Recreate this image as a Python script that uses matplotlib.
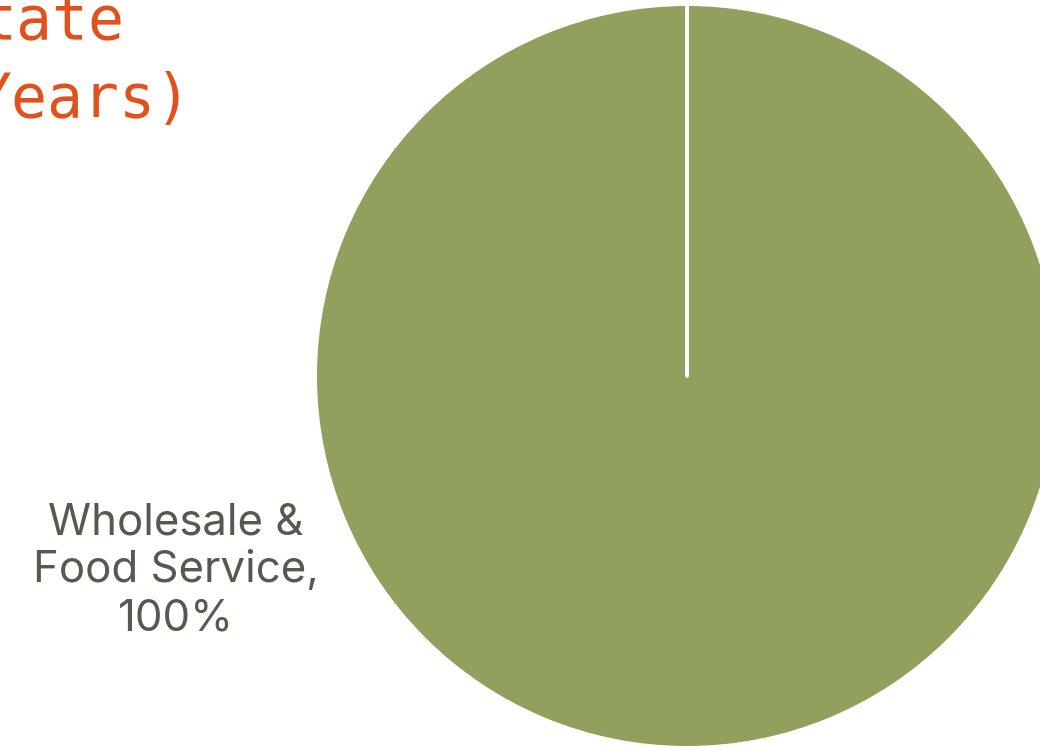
import matplotlib
matplotlib.use("Agg")
import matplotlib.pyplot as plt

# Data
categories = ["Wholesale & Food Service"]
values = [100]
title_lines = ["tate", "Years)"]

slice_colors = ["#92A05D"]
title_color = "#E0511B"
label_color = "#58584F"

W, H = 1040, 747
fig = plt.figure(figsize=(W / 100, H / 100), dpi=100)
ax = fig.add_axes([0, 0, 1, 1])

cx, cy, r = 687, H - 376, 370
wedges, _ = ax.pie(values, colors=slice_colors, startangle=90, counterclock=False,
                   center=(cx, cy), radius=r, frame=True,
                   wedgeprops=dict(edgecolor="none"))
ax.set_xlim(0, W)
ax.set_ylim(0, H)
ax.set_axis_off()

# slice boundary (start angle) drawn as a white separator
ax.plot([cx, cx], [cy, cy + r], color="white", lw=2.8, solid_capstyle="round", zorder=3)

label = f"{categories[0].replace(' & ', ' &\n')},\n{values[0]}%"
ax.text(176, H - 571, label, ha="center", va="center", fontsize=31.5,
        color=label_color, family="Inter", linespacing=1.22)

# clipped title (visible portion)
ax.text(124, H - 39, title_lines[0], ha="right", va="baseline", fontsize=43,
        color=title_color, family="DejaVu Sans Mono")
ax.text(192, H - 117, title_lines[1], ha="right", va="baseline", fontsize=43,
        color=title_color, family="DejaVu Sans Mono")

fig.savefig("out.png", dpi=100)
